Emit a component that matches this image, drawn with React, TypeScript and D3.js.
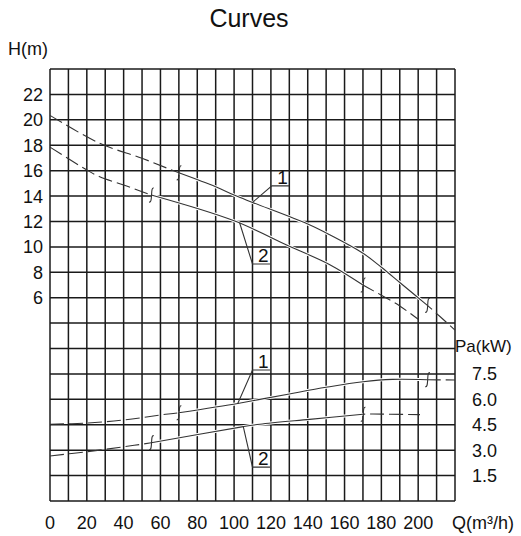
import React from 'react';
import * as d3 from 'd3';

// flow (m3/h) and head (m)
const qH1 = [0, 27, 50, 70, 90, 100, 110, 140, 152, 170, 180, 190, 200, 205, 220];
const h1 = [20.35, 18.15, 16.97, 15.83, 14.73, 14.08, 13.5, 11.8, 10.95, 9.5, 8.4, 7.2, 6.0, 5.4, 3.45];
const qH2 = [0, 20, 27, 40, 55, 100, 130, 152, 170, 180, 190, 200];
const h2 = [17.85, 16.05, 15.52, 14.87, 14.08, 12.05, 10.05, 8.6, 7.0, 6.2, 5.35, 4.3];

// flow and shaft power (kW)
const qP1 = [0, 20, 40, 60, 70, 102, 114, 130, 150, 170, 186, 205, 220];
const p1 = [4.53, 4.6, 4.78, 5.08, 5.21, 5.76, 6.0, 6.32, 6.71, 7.04, 7.18, 7.16, 7.14];
const qP2 = [0, 20, 40, 55, 105, 114, 141, 170, 185, 201];
const p2 = [2.66, 2.91, 3.2, 3.44, 4.39, 4.53, 4.82, 5.12, 5.12, 5.1];

// solid (working) range of each curve; outside it the curve is dashed
const workH1 = [70, 205];
const workH2 = [55, 170];
const workP1 = [70, 205];
const workP2 = [55, 170];

const qTicks = [0, 20, 40, 60, 80, 100, 120, 140, 160, 180, 200];
const hTicks = [6, 8, 10, 12, 14, 16, 18, 20, 22];
const pTicks = [1.5, 3.0, 4.5, 6.0, 7.5];

const FONT = '"Liberation Sans", Arial, sans-serif';

export default function App() {
  const width = 521;
  const height = 536;
  const left = 50, right = 455, top = 69, bottom = 501;

  const x = d3.scaleLinear().domain([0, 220]).range([left, right]);
  const yH = d3.scaleLinear().domain([-10, 24]).range([bottom, top]);
  const yP = d3.scaleLinear().domain([0, 25.5]).range([bottom, top]);

  const makeLine = (y: d3.ScaleLinear<number, number>) =>
    d3.line<[number, number]>()
      .x((d) => x(d[0]))
      .y((d) => y(d[1]))
      .curve(d3.curveCatmullRom.alpha(0.5));

  const series = [
    { q: qH1, v: h1, work: workH1, y: yH },
    { q: qH2, v: h2, work: workH2, y: yH },
    { q: qP1, v: p1, work: workP1, y: yP },
    { q: qP2, v: p2, work: workP2, y: yP },
  ];

  // curve labels: anchor on the curve, knee of the leader, label text
  const labels = [
    { text: '1', y: yH, at: [110, 13.5], knee: [120.5, 14.8] },
    { text: '2', y: yH, at: [103, 11.9], knee: [110, 8.65] },
    { text: '1', y: yP, at: [102, 5.76], knee: [110, 7.73] },
    { text: '2', y: yP, at: [105, 4.39], knee: [110, 2.0] },
  ];

  const gridColor = '#1a1a1a';
  const curveColor = '#333';

  return (
    <svg width={width} height={height} style={{ position: 'absolute', left: 0, top: 0, background: '#fff' }}
      fontFamily={FONT}>
      <text x={249} y={27} fontSize={25} textAnchor="middle" fill="#111">Curves</text>
      <text x={8} y={55} fontSize={18} fill="#111">H(m)</text>
      <text x={455} y={352} fontSize={17} fill="#111">Pa(kW)</text>
      <text x={452} y={529} fontSize={18} fill="#111">Q(m³/h)</text>

      {/* grid */}
      <g stroke={gridColor} strokeWidth={1.5}>
        {d3.range(0, 221, 10).map((q) => (
          <line key={'v' + q} x1={x(q)} x2={x(q)} y1={top} y2={bottom} />
        ))}
        {d3.range(-10, 25, 2).map((h) => (
          <line key={'h' + h} x1={left} x2={right} y1={yH(h)} y2={yH(h)} />
        ))}
      </g>

      {/* tick labels */}
      <g fontSize={18} fill="#111">
        {hTicks.map((h) => (
          <text key={h} x={43} y={yH(h)} dy="0.36em" textAnchor="end">{h}</text>
        ))}
        {pTicks.map((p) => (
          <text key={p} x={497} y={yP(p)} dy="0.36em" textAnchor="end">{p.toFixed(1)}</text>
        ))}
        {qTicks.map((q) => (
          <text key={q} x={x(q)} y={529} textAnchor="middle">{q}</text>
        ))}
      </g>

      {/* curves */}
      {series.map((s, i) => {
        const pts = s.q.map((q, j) => [q, s.v[j]] as [number, number]);
        const solid = pts.filter((d) => d[0] >= s.work[0] && d[0] <= s.work[1]);
        const line = makeLine(s.y);
        return (
          <g key={i} fill="none" stroke={curveColor} strokeWidth={1.1}>
            <path d={line(pts) ?? ''} strokeDasharray="14,5" />
            <path d={line(solid) ?? ''} stroke="#fff" strokeWidth={3} />
            <path d={line(solid) ?? ''} />
            {[solid[0], solid[solid.length - 1]].map((d, k) => (
              <path key={k}
                transform={`translate(${x(d[0])},${s.y(d[1])})`}
                d="M2.5,-7 C0.5,-7.5 0.5,-4 0.3,0 C0,4 0,7.5 -2.2,7" />
            ))}
          </g>
        );
      })}

      {/* leader labels */}
      {labels.map((l, i) => {
        const ax = x(l.at[0]), ay = l.y(l.at[1]);
        const kx = x(l.knee[0]), ky = l.y(l.knee[1]);
        const ex = x(l.knee[0] + 9.5);
        return (
          <g key={i}>
            <polyline points={`${ax},${ay} ${kx},${ky} ${ex},${ky}`} fill="none" stroke={curveColor} strokeWidth={1.1} />
            <text x={(kx + ex) / 2 + 2} y={ky - 2} fontSize={19} textAnchor="middle" fill="#111">{l.text}</text>
          </g>
        );
      })}
    </svg>
  );
}
